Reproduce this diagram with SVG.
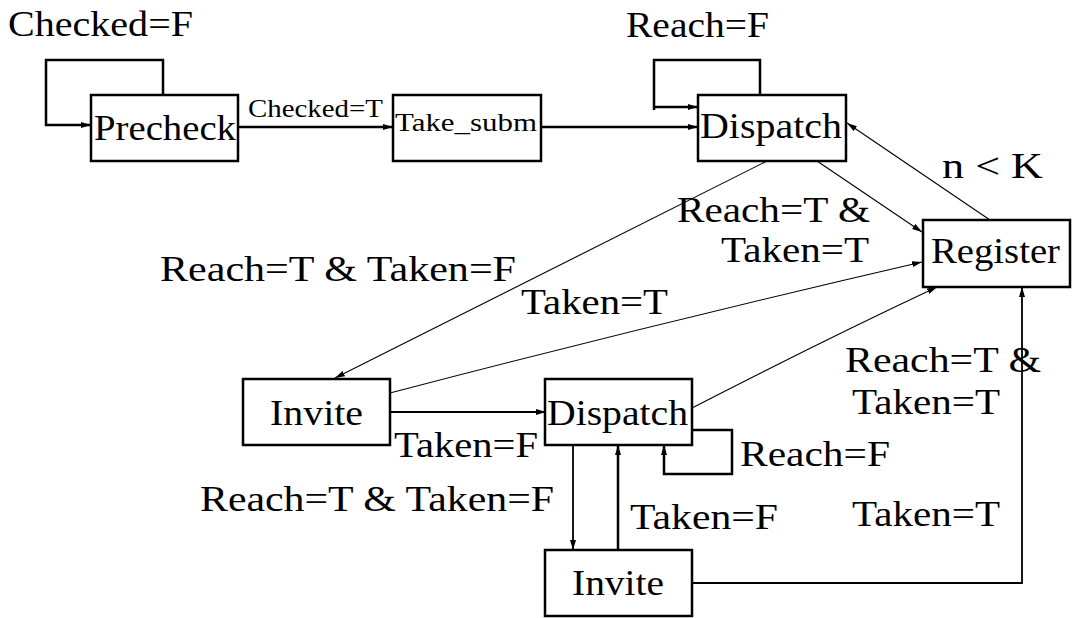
<svg xmlns="http://www.w3.org/2000/svg" width="1074" height="618" viewBox="0 0 1074 618">
  <defs>
    <marker id="arrow" viewBox="0 0 10 6" refX="10" refY="3" markerWidth="10" markerHeight="6" markerUnits="userSpaceOnUse" orient="auto">
      <path d="M0,0 L10,3 L0,6 z" fill="#000"/>
    </marker>
    <style>
      .box { fill: #fff; stroke: #000; stroke-width: 2.5; }
      .lbl { font-family: "Liberation Serif", "DejaVu Serif", serif; font-size: 36px; fill: #000; }
      .small { font-size: 25px; }
      .thick { fill: none; stroke: #000; stroke-width: 2.5; }
      .thin { fill: none; stroke: #000; stroke-width: 1.1; }
      .mid { fill: none; stroke: #000; stroke-width: 1.8; }
    </style>
  </defs>
  <rect width="1074" height="618" fill="#fff"/>

  <g id="connectors">
    <!-- Precheck self loop -->
    <path class="thick" d="M163,95 V60 H46 V125 H91" marker-end="url(#arrow)"/>
    <!-- Precheck to Take_subm -->
    <path class="thick" d="M238,127 H393" marker-end="url(#arrow)"/>
    <!-- Take_subm to Dispatch -->
    <path class="thick" d="M541,127 H698" marker-end="url(#arrow)"/>
    <!-- Dispatch self loop -->
    <path class="thick" d="M760,95 V60 H654 V110 M654,107 H698" marker-end="url(#arrow)"/>
    <!-- Dispatch to Register -->
    <path class="thin" d="M817,161 L922,232" marker-end="url(#arrow)"/>
    <!-- Register back to Dispatch -->
    <path class="thin" d="M990,220 L847,123" marker-end="url(#arrow)"/>
    <!-- Dispatch to Invite -->
    <path class="thin" d="M767,161 L335,378" marker-end="url(#arrow)"/>
    <!-- Invite to Register -->
    <path class="thin" d="M390,393 Q650,325 922,262" marker-end="url(#arrow)"/>
    <!-- Invite to lower Dispatch -->
    <path class="mid" d="M390,412 H546" marker-end="url(#arrow)"/>
    <!-- lower Dispatch to Register -->
    <path class="thin" d="M692,408 Q820,342 937,287" marker-end="url(#arrow)"/>
    <!-- lower Dispatch self loop -->
    <path class="thick" d="M692,430 H732 V474 H664 V445" marker-end="url(#arrow)"/>
    <!-- lower Dispatch to lower Invite -->
    <path class="mid" d="M573,445 V550" marker-end="url(#arrow)"/>
    <!-- lower Invite back to lower Dispatch -->
    <path class="thick" d="M618,550 V445" marker-end="url(#arrow)"/>
    <!-- lower Invite to Register -->
    <path class="mid" d="M692,583 H1022 V287" marker-end="url(#arrow)"/>
  </g>

  <g id="precheck">
    <rect class="box" x="91" y="95" width="147" height="66"/>
    <text class="lbl" x="94" y="140" textLength="142" lengthAdjust="spacingAndGlyphs">Precheck</text>
  </g>
  <g id="take_subm">
    <rect class="box" x="393" y="95" width="148" height="66"/>
    <text class="lbl small" x="395" y="131" textLength="142" lengthAdjust="spacingAndGlyphs">Take_subm</text>
  </g>
  <g id="dispatch">
    <rect class="box" x="698" y="95" width="148" height="66"/>
    <text class="lbl" x="700" y="138" textLength="142" lengthAdjust="spacingAndGlyphs">Dispatch</text>
  </g>
  <g id="register">
    <rect class="box" x="923" y="220" width="147" height="67"/>
    <text class="lbl" x="931" y="263" textLength="129" lengthAdjust="spacingAndGlyphs">Register</text>
  </g>
  <g id="invite">
    <rect class="box" x="243" y="379" width="147" height="66"/>
    <text class="lbl" x="270" y="425" textLength="93" lengthAdjust="spacingAndGlyphs">Invite</text>
  </g>
  <g id="dispatch2">
    <rect class="box" x="545" y="379" width="147" height="66"/>
    <text class="lbl" x="547" y="425" textLength="141" lengthAdjust="spacingAndGlyphs">Dispatch</text>
  </g>
  <g id="invite2">
    <rect class="box" x="545" y="550" width="147" height="66"/>
    <text class="lbl" x="572" y="595" textLength="92" lengthAdjust="spacingAndGlyphs">Invite</text>
  </g>

  <g id="labels">
    <text class="lbl" x="8" y="36" textLength="185" lengthAdjust="spacingAndGlyphs">Checked=F</text>
    <text class="lbl small" x="248" y="117" textLength="135" lengthAdjust="spacingAndGlyphs">Checked=T</text>
    <text class="lbl" x="626" y="37" textLength="143" lengthAdjust="spacingAndGlyphs">Reach=F</text>
    <text class="lbl" x="942" y="178" textLength="101" lengthAdjust="spacingAndGlyphs">n &lt; K</text>
    <text class="lbl" x="677" y="222" textLength="193" lengthAdjust="spacingAndGlyphs">Reach=T &amp;</text>
    <text class="lbl" x="721" y="262" textLength="148" lengthAdjust="spacingAndGlyphs">Taken=T</text>
    <text class="lbl" x="160" y="281" textLength="356" lengthAdjust="spacingAndGlyphs">Reach=T &amp; Taken=F</text>
    <text class="lbl" x="521" y="314" textLength="147" lengthAdjust="spacingAndGlyphs">Taken=T</text>
    <text class="lbl" x="394" y="457" textLength="144" lengthAdjust="spacingAndGlyphs">Taken=F</text>
    <text class="lbl" x="200" y="511" textLength="354" lengthAdjust="spacingAndGlyphs">Reach=T &amp; Taken=F</text>
    <text class="lbl" x="630" y="529" textLength="148" lengthAdjust="spacingAndGlyphs">Taken=F</text>
    <text class="lbl" x="740" y="466" textLength="150" lengthAdjust="spacingAndGlyphs">Reach=F</text>
    <text class="lbl" x="845" y="372" textLength="196" lengthAdjust="spacingAndGlyphs">Reach=T &amp;</text>
    <text class="lbl" x="852" y="414" textLength="148" lengthAdjust="spacingAndGlyphs">Taken=T</text>
    <text class="lbl" x="852" y="526" textLength="148" lengthAdjust="spacingAndGlyphs">Taken=T</text>
  </g>
</svg>
